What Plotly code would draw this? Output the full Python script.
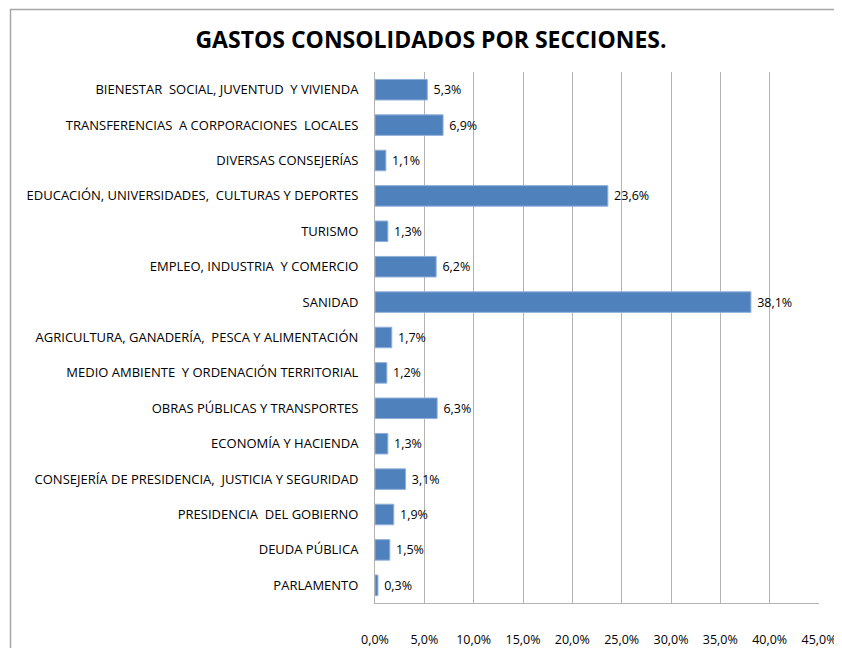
import plotly.graph_objects as go

categories = [
    "BIENESTAR  SOCIAL, JUVENTUD  Y VIVIENDA",
    "TRANSFERENCIAS  A CORPORACIONES  LOCALES",
    "DIVERSAS CONSEJERÍAS",
    "EDUCACIÓN, UNIVERSIDADES,  CULTURAS Y DEPORTES",
    "TURISMO",
    "EMPLEO, INDUSTRIA  Y COMERCIO",
    "SANIDAD",
    "AGRICULTURA, GANADERÍA,  PESCA Y ALIMENTACIÓN",
    "MEDIO AMBIENTE  Y ORDENACIÓN TERRITORIAL",
    "OBRAS PÚBLICAS Y TRANSPORTES",
    "ECONOMÍA Y HACIENDA",
    "CONSEJERÍA DE PRESIDENCIA,  JUSTICIA Y SEGURIDAD",
    "PRESIDENCIA  DEL GOBIERNO",
    "DEUDA PÚBLICA",
    "PARLAMENTO",
]
values = [0.053, 0.069, 0.011, 0.236, 0.013, 0.062, 0.381, 0.017, 0.012,
          0.063, 0.013, 0.031, 0.019, 0.015, 0.003]
tick_values = [0, 0.05, 0.10, 0.15, 0.20, 0.25, 0.30, 0.35, 0.40, 0.45]

FONT = "Open Sans, sans-serif"

fig = go.Figure(go.Bar(
    x=values, y=categories, orientation="h",
    marker=dict(color="#4f81bd", line=dict(color="#8fb0da", width=1)),
    texttemplate="\u00a0%{x:.1%}", textposition="outside",
    textfont=dict(family=FONT, size=12.5, color="black"),
    cliponaxis=False,
))

# page is rendered with an 8px body margin; work in page pixels, convert
OFF = 8
W, H = 842, 648
ml, mr, mt, mb = 375 - OFF, W - (819 - OFF), 72 - OFF, H - (603 - OFF)
pw, ph = W - ml - mr, H - mt - mb

def px_x(p):
    return (p - OFF - ml) / pw

def px_y(p):
    return (H - mb - (p - OFF)) / ph

fig.update_layout(
    width=W, height=H,
    margin=dict(l=ml, r=mr, t=mt, b=mb, autoexpand=False),
    paper_bgcolor="white", plot_bgcolor="white",
    separators=",.",
    bargap=0.42,
    showlegend=False,
    font=dict(family=FONT, size=13, color="black"),
    title=dict(text="<b>GASTOS CONSOLIDADOS POR SECCIONES.</b>",
               x=(431 - OFF) / W, xref="container", xanchor="center",
               y=1 - (40 - OFF) / H, yanchor="middle", yref="container",
               font=dict(family=FONT, size=23, color="black")),
    xaxis=dict(range=[0, 0.45], tickvals=tick_values, tickformat=".1%",
               showgrid=True, gridcolor="#b3b3b3", gridwidth=1,
               showline=True, linecolor="#b3b3b3", linewidth=1,
               zeroline=False, ticks="", ticklabelstandoff=25,
               automargin=False,
               tickfont=dict(family=FONT, size=12.5), fixedrange=True),
    yaxis=dict(autorange="reversed", showline=True, linecolor="#b3b3b3",
               linewidth=1, showgrid=False, ticks="", ticklabelstandoff=13,
               automargin=False,
               tickfont=dict(family=FONT, size=13)),
    shapes=[dict(type="path", xref="paper", yref="paper",
                 path=f"M {px_x(10.5)} {px_y(700)} L {px_x(10.5)} {px_y(9.5)} L {px_x(900)} {px_y(9.5)}",
                 line=dict(color="#a6a6a6", width=1.5))],
)

fig.write_html("out.html")
